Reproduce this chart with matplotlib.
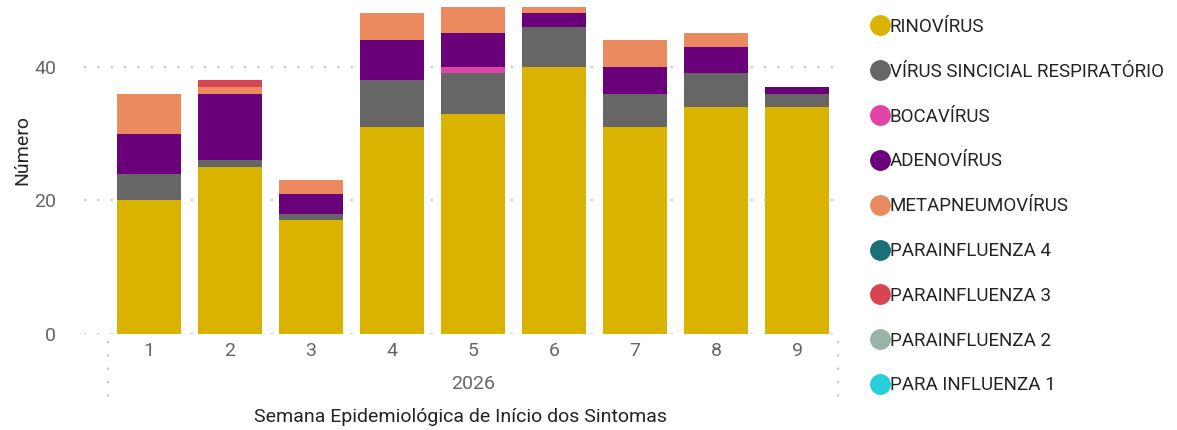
import numpy as np
import matplotlib
matplotlib.use("Agg")
import matplotlib.pyplot as plt
from matplotlib.lines import Line2D

plt.rcParams['font.family'] = ['Roboto', 'DejaVu Sans']

# data
semanas = ['1', '2', '3', '4', '5', '6', '7', '8', '9']
ano = '2026'
series = ['RINOVÍRUS', 'VÍRUS SINCICIAL RESPIRATÓRIO', 'BOCAVÍRUS', 'ADENOVÍRUS',
          'METAPNEUMOVÍRUS', 'PARAINFLUENZA 4', 'PARAINFLUENZA 3',
          'PARAINFLUENZA 2', 'PARA INFLUENZA 1']
rinovirus = [20, 25, 17, 31, 33, 40, 31, 34, 34]
vsr = [4, 1, 1, 7, 6, 6, 5, 5, 2]
bocavirus = [0, 0, 0, 0, 1, 0, 0, 0, 0]
adenovirus = [6, 10, 3, 6, 5, 2, 4, 4, 1]
metapneumovirus = [6, 1, 2, 4, 4, 1, 4, 2, 0]
parainfluenza4 = [0, 0, 0, 0, 0, 0, 0, 0, 0]
parainfluenza3 = [0, 1, 0, 0, 0, 0, 0, 0, 0]
parainfluenza2 = [0, 0, 0, 0, 0, 0, 0, 0, 0]
parainfluenza1 = [0, 0, 0, 0, 0, 0, 0, 0, 0]

colors = ['#D9B300', '#666666', '#E044A7', '#6B007B', '#EB895F',
          '#1B6F76', '#D64550', '#98B4A6', '#26D0DA']
valores = [rinovirus, vsr, bocavirus, adenovirus, metapneumovirus,
           parainfluenza4, parainfluenza3, parainfluenza2, parainfluenza1]

fig = plt.figure(figsize=(11.77, 4.30), dpi=100)
ax = fig.add_axes([84 / 1177, 96 / 430, 754 / 1177, 334 / 430])

x = np.arange(1, len(semanas) + 1)
bottom = np.zeros(len(semanas))
for nome, vals, c in zip(series, valores, colors):
    vals = np.array(vals, dtype=float)
    ax.bar(x, vals, bottom=bottom, width=0.79, color=c, label=nome, zorder=2)
    bottom += vals

ax.set_xlim(0.5 - 24 / 81.1, 9.5)
ax.set_ylim(0, 50)
ax.set_yticks([0, 20, 40])
ax.tick_params(axis='y', length=0, labelsize=14, colors='#666666', pad=20)
ax.set_xticks(x)
ax.set_xticklabels(semanas)
ax.tick_params(axis='x', length=0, labelsize=14, colors='#666666', pad=6)
ax.yaxis.grid(True, color='#C8C8C8', linestyle=(0, (1, 5)), linewidth=1.6, zorder=0)
for s in ax.spines.values():
    s.set_visible(False)

# hierarchy separators below the axis
for xv in (0.5, 9.5):
    ax.plot([xv, xv], [-0.02, -0.2], transform=ax.get_xaxis_transform(),
            color='#C8C8C8', linestyle=(0, (1, 5)), linewidth=1.6, clip_on=False)
ax.text(5, -0.15, ano, transform=ax.get_xaxis_transform(), ha='center', va='center',
        fontsize=14, color='#666666')

ax.set_xlabel('Semana Epidemiológica de Início dos Sintomas', fontsize=14,
              color='#252423', labelpad=34)
ax.set_ylabel('Número', fontsize=14, color='#252423')
ax.yaxis.set_label_coords(-0.07, 0.55)

handles = [Line2D([0], [0], marker='o', linestyle='', markersize=14,
                  markerfacecolor=c, markeredgecolor=c) for c in colors]
fig.legend(handles, series, loc='upper left', bbox_to_anchor=(857 / 1177, 1 - 3 / 430),
           frameon=False, fontsize=13.5, labelspacing=1.43, handlelength=0.8,
           handletextpad=0.15, borderaxespad=0.4, labelcolor='#252423')

fig.savefig('out.png', dpi=100)
